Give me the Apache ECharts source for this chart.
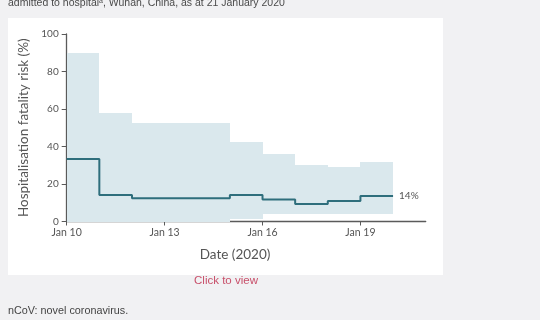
<!DOCTYPE html>
<html><head><meta charset="utf-8">
<script src="https://cdn.jsdelivr.net/npm/echarts@6/dist/echarts.min.js"></script>
<style>html,body{margin:0;padding:0;background:#f1f1f3;}#c{width:540px;height:320px;}</style>
</head><body><div id="c"></div>
<script>
// Day edges, offset from Jan 10 (each interval i spans dayEdges[i]..dayEdges[i+1])
const dayEdges = [0,1,2,3,4,5,6,7,8,9,10];
// Tick positions and labels
const tickDays = [0,3,6,9];
const tickLabels = ['Jan 10','Jan 13','Jan 16','Jan 19'];
// Hospitalisation fatality risk (%) per daily interval
const estimate = [33.3,14.1,12.4,12.4,12.4,14.1,11.8,9.4,10.9,13.6];
const lower    = [0,0,0,0,0,1.5,4,4,4,4];
const upper    = [90,57.7,52.4,52.4,52.4,42.6,36,30.1,29.2,31.5];
const endLabel = '14%';

const font = 'Lato, "Open Sans", sans-serif';
const sans = '"Liberation Sans", Arial, sans-serif';
const chart = echarts.init(document.getElementById('c'));

const bandData = lower.map((l,i)=>[dayEdges[i],dayEdges[i+1],l,upper[i]]);
const lineData = estimate.map((v,i)=>[dayEdges[i],v]);
lineData.push([dayEdges[dayEdges.length-1],estimate[estimate.length-1]]);

chart.setOption({
  animation:false,
  grid:{left:66.7,top:34,width:359,height:187.5,containLabel:false},
  graphic:[
    {type:'rect',shape:{x:8,y:18,width:435,height:257},style:{fill:'#ffffff'},z:-10},
    {type:'text',x:8,y:-2,style:{text:'admitted to hospital{s|a}, Wuhan, China, as at 21 January 2020',font:'10.5px '+sans,fill:'#4a4a4a',
      rich:{s:{fontSize:7,verticalAlign:'top',fill:'#4a4a4a'}}}},
    {type:'text',x:235,y:255,style:{text:'Date (2020)',font:'13.5px '+font,fill:'#555',align:'center',verticalAlign:'middle'}},
    {type:'text',x:226,y:281,style:{text:'Click to view',font:'11.5px '+sans,fill:'#c8506a',align:'center',verticalAlign:'middle'}},
    {type:'text',x:8,y:311,style:{text:'nCoV: novel coronavirus.',font:'10.8px '+sans,fill:'#444',verticalAlign:'middle'}}
  ],
  xAxis:{type:'value',min:0,max:11,
    axisLine:{show:true,lineStyle:{color:'#5a5a5a',width:1.3}},
    axisTick:{show:true,length:4,lineStyle:{color:'#5a5a5a'},customValues:tickDays},
    axisLabel:{color:'#555',fontSize:10.5,fontFamily:font,margin:6,customValues:tickDays,
      formatter:(v)=>{const i=tickDays.indexOf(v);return i>=0?tickLabels[i]:'';}},
    splitLine:{show:false}},
  yAxis:{type:'value',min:0,max:100,interval:20,
    name:'Hospitalisation fatality risk (%)',nameLocation:'middle',nameGap:27,
    nameTextStyle:{color:'#555',fontSize:13.5,fontFamily:font},
    axisLine:{show:true,lineStyle:{color:'#5a5a5a',width:1.3}},
    axisTick:{show:true,length:5,lineStyle:{color:'#5a5a5a'}},
    axisLabel:{color:'#555',fontSize:10,fontFamily:font,margin:8},
    splitLine:{show:false}},
  series:[
    {type:'custom',data:bandData,silent:true,z:1,
      renderItem:(params,api)=>{
        const p0=api.coord([api.value(0),api.value(3)]);
        const p1=api.coord([api.value(1),api.value(2)]);
        const x0=Math.round(p0[0]), x1=Math.round(p1[0]);
        const y0=Math.round(p0[1]), y1=Math.round(p1[1]);
        return {type:'rect',shape:{x:x0,y:y0,width:x1-x0,height:y1-y0},
          style:{fill:'#dae8ed'}};
      }},
    {type:'line',step:'end',data:lineData,symbol:'none',z:3,
      lineStyle:{color:'#2e6e7c',width:2},
      endLabel:{show:true,formatter:endLabel,color:'#555',fontSize:10,fontFamily:font,distance:6}}
  ]
});
</script></body></html>
